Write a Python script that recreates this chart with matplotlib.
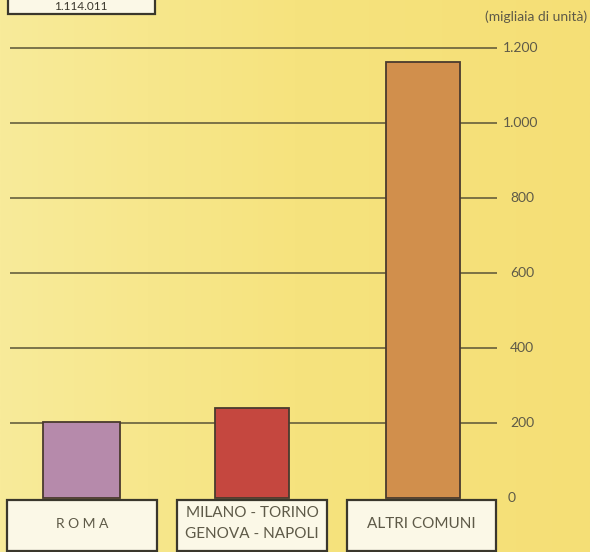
import matplotlib
matplotlib.use("Agg")
import matplotlib.pyplot as plt
from matplotlib.patches import Rectangle
from matplotlib.colors import LinearSegmentedColormap
import numpy as np

plt.rcParams['font.family'] = ['Lato', 'DejaVu Sans']

# ---- data ----
categories = ["R O M A", "MILANO - TORINO\nGENOVA - NAPOLI", "ALTRI COMUNI"]
values = [202, 240, 1163]
bar_colors = ["#B68AAB", "#C5473F", "#D18F4C"]
tick_values = [0, 200, 400, 600, 800, 1000, 1200]
tick_labels = ["0", "200", "400", "600", "800", "1.000", "1.200"]
unit_label = "(migliaia di unità)"
total_label = "1.114.011"

# ---- layout (x in pixels, y in data units) ----
W, H = 590, 552
fig = plt.figure(figsize=(W / 100, H / 100), dpi=100)
ax = fig.add_axes([0, 0, 1, 1])
ax.set_xlim(0, W)
ax.set_ylim(-144, 1328)
ax.axis('off')

# background gradient
grad = np.linspace(0, 1, 256)[None, :]
bg = LinearSegmentedColormap.from_list("bg", ["#F8EB9A", "#F6E37E", "#F5DF76"])
ax.imshow(grad, extent=[0, W, -144, 1328], aspect='auto', cmap=bg, zorder=0)

grid_color = "#5A5436"
text_color = "#5E5A48"

# gridlines (skip 0)
for v in tick_values[1:]:
    ax.plot([10, 497], [v, v], color=grid_color, lw=1.1, zorder=1, solid_capstyle='butt')

# tick labels
for v, lab in zip(tick_values, tick_labels):
    if v == 0:
        x = 508
    elif v >= 1000:
        x = 503
    else:
        x = 510
    ax.text(x, v, lab, ha='left', va='center', fontsize=10, color=text_color, zorder=5)

ax.text(587, 1283, unit_label, ha='right', va='center', fontsize=10, color=text_color, zorder=5)

# bars
centers = [81.5, 252, 422.5]
widths = [77, 74, 74]
ax.bar(centers, values, width=widths, color=bar_colors, edgecolor="#4A3A2E", linewidth=1.3, zorder=2)

# label boxes
box_x = [(7, 157), (177, 327), (347, 496)]
for (x0, x1), lab in zip(box_x, categories):
    ax.add_patch(Rectangle((x0, -141), x1 - x0, 136, facecolor="#FBF8E7",
                           edgecolor="#3A372C", linewidth=1.6, zorder=3))
    fs = 10 if lab.startswith("R") else 11
    ax.text((x0 + x1) / 2, -68, lab, ha='center', va='center', fontsize=fs,
            color=text_color, linespacing=1.55, zorder=4)

# top-left total box (touching the figure's top edge)
ax.add_patch(Rectangle((8, 1291), 147, 80, facecolor="#FBF8E7",
                       edgecolor="#3A372C", linewidth=1.6, zorder=3))
ax.text(81, 1310, total_label, ha='center', va='center', fontsize=8.5,
        color="#3A372C", zorder=4)

fig.savefig("out.png", dpi=100)
